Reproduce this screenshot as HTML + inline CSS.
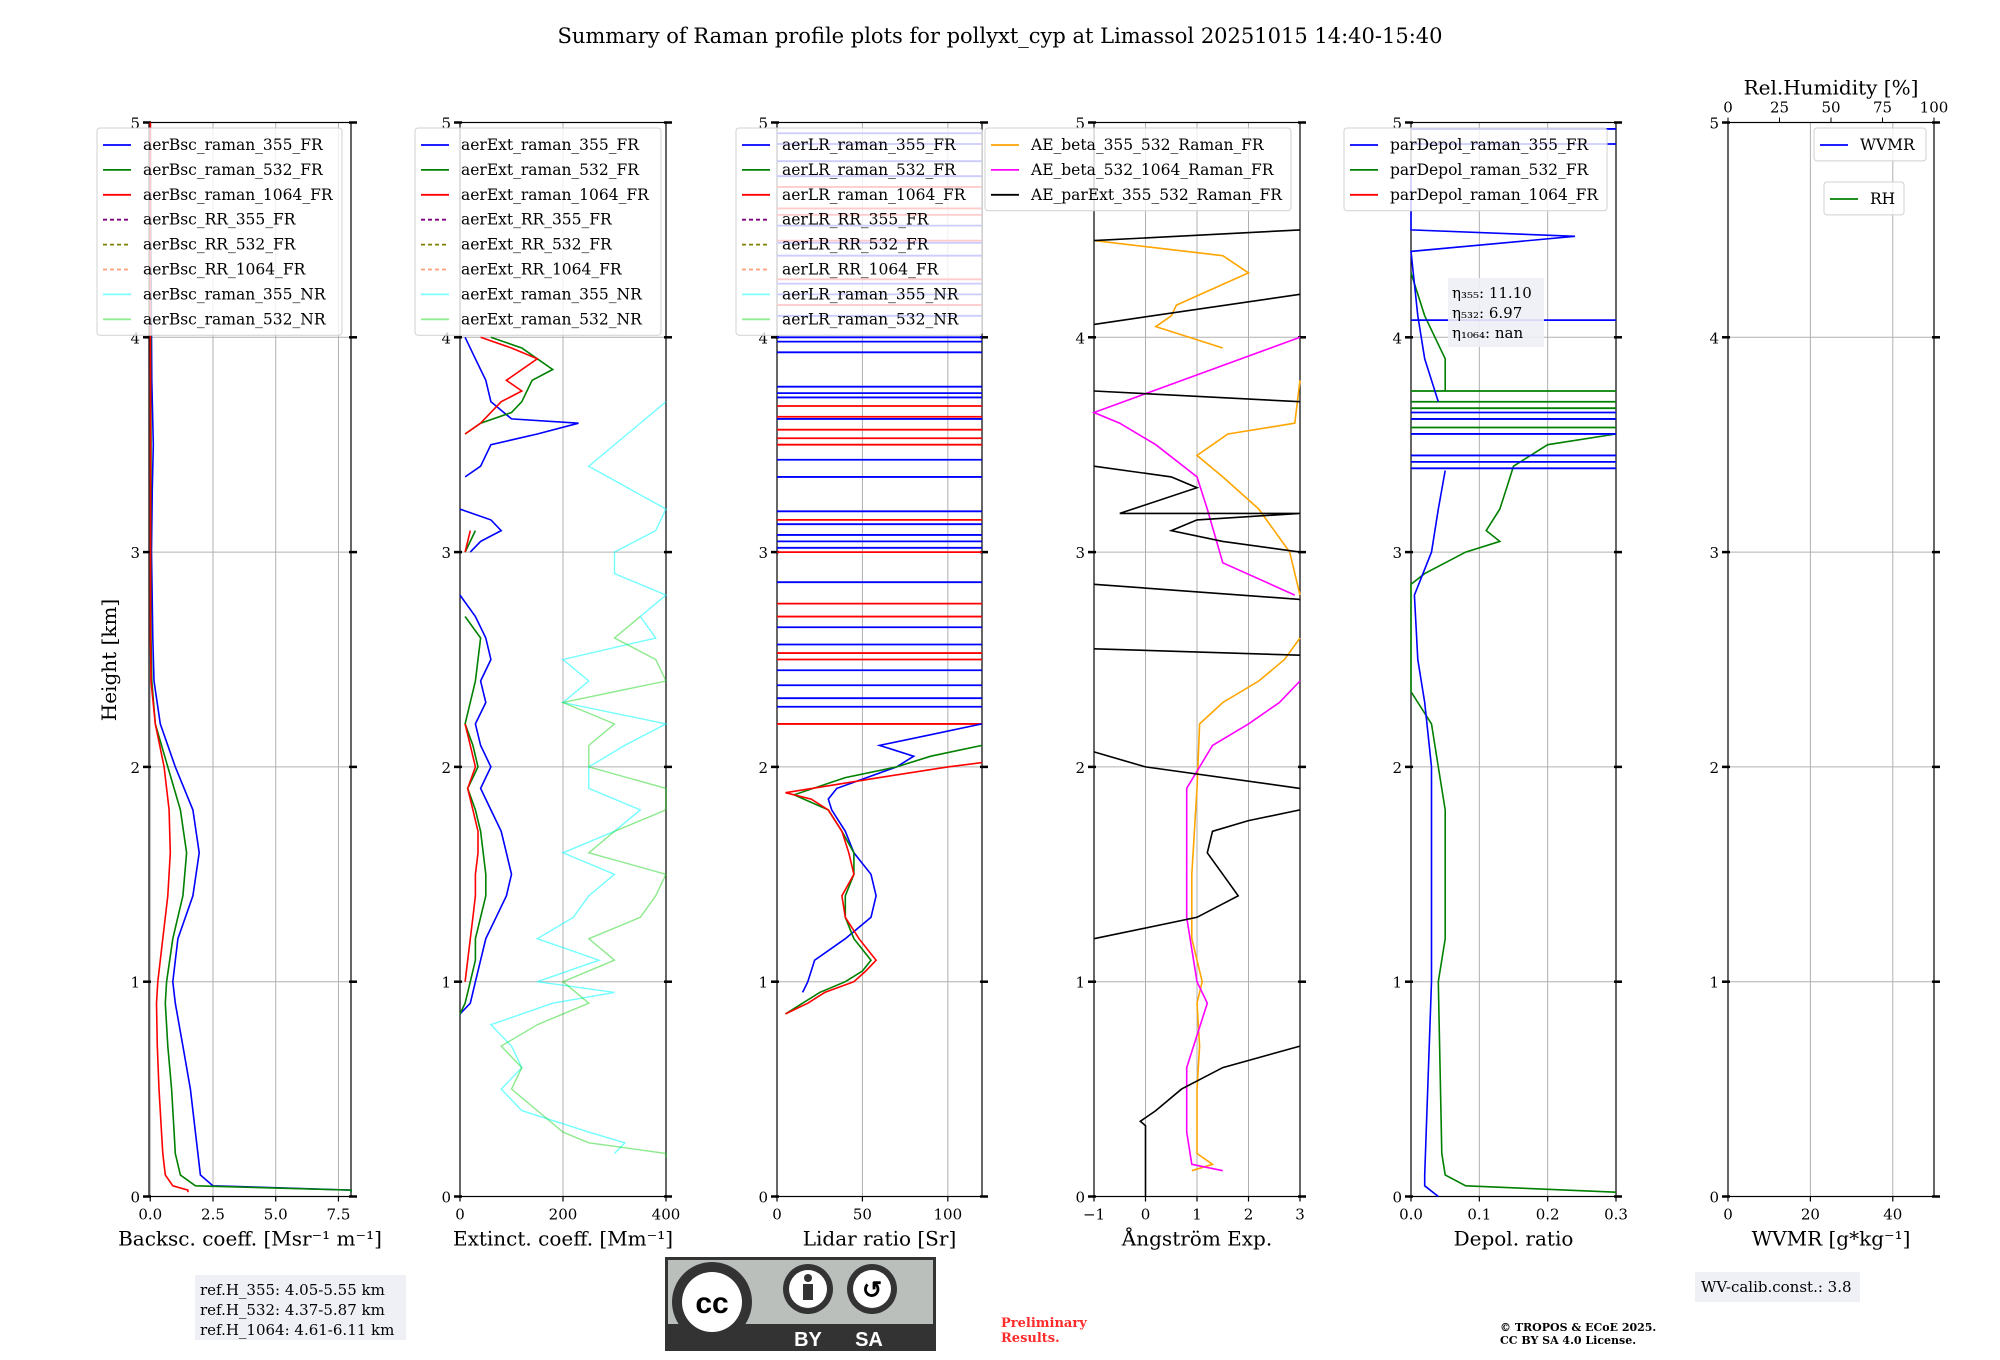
<!DOCTYPE html>
<html><head><meta charset="utf-8"><style>
html,body{margin:0;padding:0;background:#fff;}
svg{display:block;font-family:"DejaVu Serif","Liberation Serif",serif;}
</style></head><body>
<svg id="fig" width="2000" height="1360" viewBox="0 0 2000 1360">
<text x="1000" y="43" text-anchor="middle" font-size="21">Summary of Raman profile plots for pollyxt_cyp at Limassol 20251015 14:40-15:40</text>
<g id="plots"></g>
<text transform="translate(116,660) rotate(-90)" text-anchor="middle" font-size="20">Height [km]</text>
<g>
<rect x="195" y="1275" width="211" height="65" fill="#eef0f5"/>
<text x="200" y="1295" font-size="15">ref.H_355: 4.05-5.55 km</text>
<text x="200" y="1315" font-size="15">ref.H_532: 4.37-5.87 km</text>
<text x="200" y="1335" font-size="15">ref.H_1064: 4.61-6.11 km</text>
</g>
<g>
<rect x="665" y="1257" width="271" height="94" fill="#333" />
<rect x="668" y="1260" width="265" height="64" fill="#bbbfbb"/>
<circle cx="712" cy="1302" r="40" fill="#333"/><circle cx="712" cy="1302" r="30" fill="#fff"/>
<text x="712" y="1313" text-anchor="middle" font-family="Liberation Sans" font-weight="bold" font-size="30">cc</text>
<circle cx="808" cy="1289" r="25" fill="#333"/><circle cx="808" cy="1289" r="19" fill="#fff"/>
<circle cx="808" cy="1278" r="4" fill="#333"/><rect x="803" y="1284" width="10" height="16" fill="#333"/>
<circle cx="872" cy="1289" r="25" fill="#333"/><circle cx="872" cy="1289" r="19" fill="#fff"/>
<text x="872" y="1298" text-anchor="middle" font-family="Liberation Sans" font-weight="bold" font-size="24">↺</text>
<text x="808" y="1346" text-anchor="middle" fill="#fff" font-family="Liberation Sans" font-weight="bold" font-size="20">BY</text>
<text x="869" y="1346" text-anchor="middle" fill="#fff" font-family="Liberation Sans" font-weight="bold" font-size="20">SA</text>
</g>
<text x="1001" y="1327" fill="#ff2a2a" font-size="13" font-weight="bold">Preliminary</text>
<text x="1001" y="1342" fill="#ff2a2a" font-size="13" font-weight="bold">Results.</text>
<text x="1500" y="1331" font-size="11" font-weight="bold">© TROPOS &amp; ECoE 2025.</text>
<text x="1500" y="1344" font-size="11" font-weight="bold">CC BY SA 4.0 License.</text>
<g>
<rect x="1695" y="1272" width="165" height="30" fill="#eef0f5"/>
<text x="1701" y="1292" font-size="15">WV-calib.const.: 3.8</text>
</g>
</svg>
<script>
// ---- data ----
const H0 = 1196.5, KM = 214.8;
const panelX = [[149,351],[460,666],[777,982],[1094,1300],[1411,1616],[1728,1934]];
const panelRange = [[-0.05,8],[0,400],[0,120],[-1,3],[0,0.3],[0,50]];
const tickVals1 = [0,2.5,5,7.5]; const tickLabels1 = ["0.0","2.5","5.0","7.5"];
const tickVals2 = [0,200,400]; const tickLabels2 = ["0","200","400"];
const tickVals3 = [0,50,100]; const tickLabels3 = ["0","50","100"];
const tickVals4 = [-1,0,1,2,3]; const tickLabels4 = ["−1","0","1","2","3"];
const tickVals5 = [0,0.1,0.2,0.3]; const tickLabels5 = ["0.0","0.1","0.2","0.3"];
const tickVals6 = [0,20,40]; const tickLabels6 = ["0","20","40"];
const rhTicks = [0,25,50,75,100];
const heightTicks = [0,1,2,3,4,5];
const xLabels = ["Backsc. coeff. [Msr⁻¹ m⁻¹]","Extinct. coeff. [Mm⁻¹]","Lidar ratio [Sr]","Ångström Exp.","Depol. ratio","WVMR [g*kg⁻¹]"];

// backscatter
const bscH = [0.02,0.03,0.05,0.1,0.2,0.3,0.5,0.7,0.9,1.0,1.2,1.4,1.6,1.8,2.0,2.2,2.4,2.6,3.0,3.3,3.5,3.8,4.0,4.5,5.0];
const bsc355 = [8,8,2.5,2.0,1.9,1.8,1.6,1.3,1.0,0.9,1.1,1.7,1.95,1.7,1.0,0.4,0.15,0.1,0.05,0.08,0.12,0.06,0.05,0.02,0];
const bsc532 = [8,8,1.8,1.2,1.0,0.95,0.85,0.7,0.6,0.65,0.9,1.3,1.45,1.2,0.7,0.2,0.06,0.03,0.02,0.03,0.03,0.02,0.02,0.01,0];
const bsc1064 = [1.5,1.5,0.9,0.6,0.5,0.45,0.35,0.28,0.25,0.3,0.5,0.7,0.8,0.75,0.55,0.2,0.03,0.01,0.01,0.01,0.01,0.01,0.0,0.0,0];

// extinction
const extH355 = [0.85,0.9,1.0,1.1,1.2,1.3,1.4,1.5,1.6,1.7,1.8,1.9,2.0,2.1,2.2,2.3,2.4,2.5,2.6,2.7,2.8,null,3.0,3.05,3.1,3.15,3.2,null,3.35,3.4,3.5,3.55,3.6,3.62,3.7,3.8,3.9,4.0];
const ext355 = [0,20,30,40,50,70,90,100,90,80,60,40,60,40,30,50,40,60,50,30,0,null,20,40,80,60,0,null,10,40,60,150,230,100,60,50,30,10];
const extH532 = [0.85,0.9,1.0,1.1,1.2,1.3,1.4,1.5,1.6,1.7,1.8,1.9,2.0,2.1,2.2,2.4,2.6,2.7,null,3.0,3.1,null,3.55,3.6,3.65,3.7,3.8,3.85,3.9,3.95,4.0];
const ext532 = [0,10,20,30,30,40,50,50,45,40,30,15,35,25,10,30,40,10,null,10,30,null,10,40,100,120,140,180,150,120,60];
const extH1064 = [1.0,1.1,1.2,1.3,1.4,1.5,1.6,1.7,1.8,1.9,2.0,2.1,2.2,null,3.0,3.1,null,3.55,3.6,3.7,3.75,3.8,3.9,3.95,4.0];
const ext1064 = [10,15,20,25,30,30,35,35,25,15,30,20,10,null,10,20,null,10,40,80,120,90,150,100,40];
const extHnr355 = [0.2,0.25,0.3,0.4,0.5,0.6,0.7,0.8,0.9,0.95,1.0,1.1,1.2,1.3,1.4,1.5,1.6,1.7,1.8,1.9,2.0,2.1,2.2,2.3,2.4,2.5,2.6,2.7,2.8,2.9,3.0,3.1,3.2,3.4,3.7];
const extnr355 = [300,320,250,120,80,120,100,60,180,300,150,270,150,220,250,300,200,300,350,250,250,320,400,200,250,200,380,350,400,300,300,380,400,250,400];
const extHnr532 = [0.18,0.2,0.25,0.3,0.4,0.5,0.6,0.7,0.8,0.9,1.0,1.1,1.2,1.3,1.4,1.5,1.6,1.7,1.8,1.9,2.0,2.1,2.2,2.3,2.4,2.5,2.6,2.7];
const extnr532 = [400,400,250,200,150,100,120,80,150,250,200,300,250,350,380,400,250,300,400,400,250,250,300,200,400,380,300,350];

// lidar ratio
const lrH355 = [0.95,1.0,1.05,1.1,1.2,1.3,1.4,1.5,1.6,1.7,1.8,1.85,1.9,2.0,2.05,2.1,2.15,2.2];
const lr355 = [15,18,20,22,40,55,58,55,45,40,32,30,35,70,80,60,90,120];
const lrH532 = [0.85,0.9,0.95,1.0,1.05,1.1,1.2,1.3,1.4,1.5,1.6,1.7,1.8,1.87,1.95,2.0,2.05,2.1];
const lr532 = [5,15,25,40,50,55,45,40,40,45,45,38,30,10,40,70,90,120];
const lrH1064 = [0.85,0.9,0.95,1.0,1.05,1.1,1.2,1.3,1.4,1.5,1.6,1.7,1.8,1.85,1.88,1.95,2.0,2.02];
const lr1064 = [5,18,28,45,52,58,48,40,38,45,42,38,30,20,5,60,100,120];
const lrBlueLines = [2.28,2.32,2.38,2.45,2.57,2.65,2.86,3.02,3.05,3.08,3.13,3.19,3.35,3.43,3.62,3.72,3.74,3.77,3.93,3.98,4.0,4.1,4.2,4.25,4.38,4.44,4.52,4.75,4.82,4.9,4.95];
const lrRedLines = [2.2,2.5,2.53,2.7,2.76,3.0,3.15,3.5,3.53,3.57,3.63,3.68,4.15,4.27,4.45,4.57,4.6,4.7];

// angstrom
const aeH1 = [0.12,0.15,0.2,0.3,0.5,0.7,0.9,1.0,1.2,1.5,1.9,2.2,2.3,2.4,2.5,2.6,null,2.8,3.0,3.2,3.35,3.45,3.5,3.55,3.6,3.8,null,3.95,4.05,4.1,4.15,4.3,4.38,4.45];
const ae1 = [0.9,1.3,1.0,1.0,1.0,1.05,1.0,1.1,0.9,0.9,1.0,1.05,1.5,2.2,2.7,3.0,null,3.0,2.8,2.2,1.5,1.0,1.3,1.6,2.9,3.0,null,1.5,0.2,0.5,0.6,2.0,1.5,-1];
const aeH2 = [0.12,0.15,0.3,0.6,0.9,1.0,1.3,1.6,1.9,2.1,2.2,2.3,2.4,null,2.8,2.95,3.2,3.35,3.5,3.6,3.65,4.0];
const ae2 = [1.5,0.9,0.8,0.8,1.2,1.0,0.8,0.8,0.8,1.3,2.0,2.6,3.0,null,2.9,1.5,1.2,1.0,0.2,-0.5,-1,3.0];
const aeH3 = [0,0.33,0.35,0.4,0.5,0.6,0.7,null,1.2,1.3,1.4,1.5,1.6,1.7,1.75,1.8,null,1.9,2.0,2.07,null,2.55,2.52,null,2.85,2.78,null,3.0,3.05,3.1,3.15,3.18,3.18,3.3,3.35,3.4,null,3.75,3.7,null,4.06,4.2,null,4.45,4.5];
const ae3 = [0,0,-0.1,0.2,0.7,1.5,3.0,null,-1,1.0,1.8,1.5,1.2,1.3,2.0,3.0,null,3.0,0,-1,null,-1,3,null,-1,3,null,3,1.5,0.5,1.0,3.0,-0.5,1.0,0.5,-1,null,-1,3,null,-1,3,null,-1,3];

// depolarization
const dpH355 = [0,0.05,0.1,1.0,2.0,2.3,2.5,2.8,3.0,3.2,3.38,null,3.7,3.9,4.1,4.4,4.47,4.5,4.55,4.8];
const dp355 = [0.04,0.02,0.02,0.03,0.03,0.02,0.01,0.005,0.03,0.04,0.05,null,0.04,0.02,0.01,0.0,0.24,0.0,0.0,0.0];
const dpBlueLines = [3.39,3.42,3.45,3.55,3.62,3.65,4.08,4.9,4.97];
const dpH532 = [0.02,0.05,0.1,0.2,1.0,1.2,1.8,2.0,2.2,2.35,2.85,2.9,3.0,3.05,3.1,3.2,3.3,3.4,3.5,3.55,null,3.75,3.9,4.1,4.3];
const dp532 = [0.3,0.08,0.05,0.045,0.04,0.05,0.05,0.04,0.03,0.0,0.0,0.02,0.08,0.13,0.11,0.13,0.14,0.15,0.2,0.3,null,0.05,0.05,0.02,0.0];
const dpGreenLines = [3.58,3.62,3.67,3.7,3.75];

// ---- helpers ----
const NS = "http://www.w3.org/2000/svg";
const root = document.getElementById('plots');
function yOf(h){ return H0 - h*KM; }
function xOf(p,v){ const [a,b]=panelX[p], [lo,hi]=panelRange[p]; return a+(v-lo)/(hi-lo)*(b-a); }
function mk(tag, attrs, parent){ const e=document.createElementNS(NS,tag); for(const k in attrs) e.setAttribute(k,attrs[k]); (parent||root).appendChild(e); return e; }
function series(p, hs, vs, color, name, w, op){
  let d=''; let pen=false;
  for(let i=0;i<hs.length;i++){
    if(hs[i]===null||vs[i]===null){pen=false;continue;}
    const v=Math.max(panelRange[p][0],Math.min(panelRange[p][1],vs[i]));
    d+=(pen?'L':'M')+xOf(p,v).toFixed(1)+' '+yOf(hs[i]).toFixed(1)+' '; pen=true;
  }
  const e=mk('path',{d:d,fill:'none',stroke:color,'stroke-width':w||1.6,'stroke-opacity':op||1});
  
  
}
function hlines(p, hs, color, name){
  const g=mk('g',{});
  
  
  hs.forEach(h=>{ mk('line',{x1:xOf(p,panelRange[p][0]),x2:xOf(p,panelRange[p][1]),y1:yOf(h),y2:yOf(h),stroke:color,'stroke-width':1.8},g); });
}
const tickSets=[[tickVals1,tickLabels1],[tickVals2,tickLabels2],[tickVals3,tickLabels3],[tickVals4,tickLabels4],[tickVals5,tickLabels5],[tickVals6,tickLabels6]];
function frame(p){
  const [a,b]=panelX[p]; const top=yOf(5), bot=yOf(0);
  const g=mk('g',{});
  
  
  tickSets[p][0].forEach((v,i)=>{
    const x=xOf(p,v);
    mk('line',{x1:x,x2:x,y1:top,y2:bot,stroke:'#b0b0b0','stroke-width':1},g);
    mk('line',{x1:x,x2:x,y1:bot,y2:bot+5,stroke:'#000','stroke-width':1.2},g);
    const t=mk('text',{x:x,y:bot+23,'text-anchor':'middle','font-size':15},g); t.textContent=tickSets[p][1][i];
  });
  heightTicks.forEach(h=>{
    const y=yOf(h);
    mk('line',{x1:a,x2:b,y1:y,y2:y,stroke:'#b0b0b0','stroke-width':1},g);
    mk('line',{x1:a-6,x2:a+2,y1:y,y2:y,stroke:'#000','stroke-width':2.5},g);
    mk('line',{x1:b-2,x2:b+6,y1:y,y2:y,stroke:'#000','stroke-width':2.5},g);
    const t=mk('text',{x:a-9,y:y+6,'text-anchor':'end','font-size':15},g); t.textContent=h;
  });
  mk('rect',{x:a,y:top,width:b-a,height:bot-top,fill:'none',stroke:'#000','stroke-width':1.2},g);
  const xl=mk('text',{x:(a+b)/2,y:bot+49,'text-anchor':'middle','font-size':20},g); xl.textContent=xLabels[p];
  
  
}
function legend(x,y,w,entries,name,gap){
  gap=gap||24.9;
  const g=mk('g',{});
  
  
  mk('rect',{x:x,y:y,width:w,height:entries.length*gap+8,rx:3,fill:'#fff','fill-opacity':0.8,stroke:'#d0d0d0'},g);
  entries.forEach((e,i)=>{
    const yy=y+17+i*gap;
    const ln=mk('line',{x1:x+6,x2:x+34,y1:yy,y2:yy,stroke:e[1],'stroke-width':1.8},g);
    if(e[2]) ln.setAttribute('stroke-dasharray','4 3');
    const t=mk('text',{x:x+46,y:yy+5,'font-size':15.5},g); t.textContent=e[0];
  });
}
for(let p=0;p<6;p++) frame(p);

// series
series(0,bscH,bsc355,'#0000ff','bsc-355-fr');
series(0,bscH,bsc532,'#008000','bsc-532-fr');
series(0,bscH,bsc1064,'#ff0000','bsc-1064-fr');
series(1,extHnr355,extnr355,'#00ffff','ext-355-nr',1.4,0.55);
series(1,extHnr532,extnr532,'#00d000','ext-532-nr',1.4,0.45);
series(1,extH355,ext355,'#0000ff','ext-355-fr');
series(1,extH532,ext532,'#008000','ext-532-fr');
series(1,extH1064,ext1064,'#ff0000','ext-1064-fr');
hlines(2,lrRedLines,'#ff0000','lr-1064-noise');
hlines(2,lrBlueLines,'#0000ff','lr-355-noise');
series(2,lrH355,lr355,'#0000ff','lr-355-fr');
series(2,lrH532,lr532,'#008000','lr-532-fr');
series(2,lrH1064,lr1064,'#ff0000','lr-1064-fr');
series(3,aeH1,ae1,'#ffa500','ae-beta-355-532');
series(3,aeH2,ae2,'#ff00ff','ae-beta-532-1064');
series(3,aeH3,ae3,'#000000','ae-parext-355-532');
series(4,dpH532,dp532,'#008000','depol-532');
hlines(4,dpGreenLines,'#008000','depol-532-noise');
series(4,dpH355,dp355,'#0000ff','depol-355');
hlines(4,dpBlueLines,'#0000ff','depol-355-noise');

// legends
legend(97,128,245,[['aerBsc_raman_355_FR','#0000ff'],['aerBsc_raman_532_FR','#008000'],['aerBsc_raman_1064_FR','#ff0000'],['aerBsc_RR_355_FR','#800080',1],['aerBsc_RR_532_FR','#808000',1],['aerBsc_RR_1064_FR','#ffa07a',1],['aerBsc_raman_355_NR','#80ffff'],['aerBsc_raman_532_NR','#90ee90']],'legend-backscatter');
legend(415,128,246,[['aerExt_raman_355_FR','#0000ff'],['aerExt_raman_532_FR','#008000'],['aerExt_raman_1064_FR','#ff0000'],['aerExt_RR_355_FR','#800080',1],['aerExt_RR_532_FR','#808000',1],['aerExt_RR_1064_FR','#ffa07a',1],['aerExt_raman_355_NR','#80ffff'],['aerExt_raman_532_NR','#90ee90']],'legend-extinction');
legend(736,128,246,[['aerLR_raman_355_FR','#0000ff'],['aerLR_raman_532_FR','#008000'],['aerLR_raman_1064_FR','#ff0000'],['aerLR_RR_355_FR','#800080',1],['aerLR_RR_532_FR','#808000',1],['aerLR_RR_1064_FR','#ffa07a',1],['aerLR_raman_355_NR','#80ffff'],['aerLR_raman_532_NR','#90ee90']],'legend-lidar-ratio');
legend(985,128,306,[['AE_beta_355_532_Raman_FR','#ffa500'],['AE_beta_532_1064_Raman_FR','#ff00ff'],['AE_parExt_355_532_Raman_FR','#000000']],'legend-angstrom');
legend(1344,128,263,[['parDepol_raman_355_FR','#0000ff'],['parDepol_raman_532_FR','#008000'],['parDepol_raman_1064_FR','#ff0000']],'legend-depol');
legend(1814,128,112,[['WVMR','#0000ff']],'legend-wvmr');
legend(1824,182,80,[['RH','#008000']],'legend-rh');

// eta box
(function(){
  const g=mk('g',{});
  
  
  mk('rect',{x:1448,y:278,width:96,height:69,fill:'#eef0f5','fill-opacity':0.9},g);
  [['η₃₅₅: 11.10',298],['η₅₃₂: 6.97',318],['η₁₀₆₄: nan',338]].forEach(r=>{const t=mk('text',{x:1452,y:r[1],'font-size':15},g); t.textContent=r[0];});
})();
// RH top axis
(function(){
  const g=mk('g',{});
  
  
  const [a,b]=panelX[5], top=yOf(5);
  rhTicks.forEach(v=>{const x=a+v/100*(b-a); mk('line',{x1:x,x2:x,y1:top-5,y2:top,stroke:'#000'},g); const t=mk('text',{x:x,y:top-10,'text-anchor':'middle','font-size':15},g); t.textContent=v;});
  const t=mk('text',{x:(a+b)/2,y:top-28,'text-anchor':'middle','font-size':20},g); t.textContent='Rel.Humidity [%]';
})();
</script>
</body></html>
